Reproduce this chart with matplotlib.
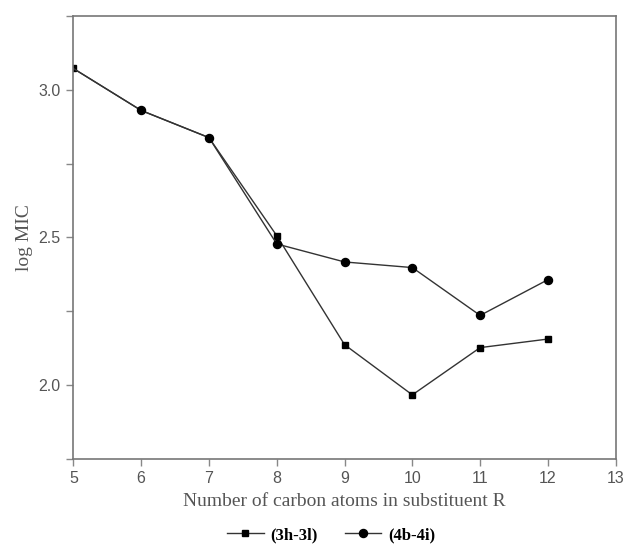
import matplotlib
matplotlib.use("Agg")
import matplotlib.pyplot as plt
from matplotlib.ticker import MultipleLocator, FormatStrFormatter

# data
carbons = [5, 6, 7, 8, 9, 10, 11, 12]
mic_3h3l = [3.072, 2.930, 2.838, 2.506, 2.137, 1.967, 2.127, 2.156]
mic_4b4i = [3.072, 2.930, 2.838, 2.478, 2.417, 2.398, 2.236, 2.357]
labels = ["(3h-3l)", "(4b-4i)"]

grey = "#555555"
fig = plt.figure(figsize=(6.27, 5.49), dpi=100)
ax = fig.add_axes([0.117, 0.164, 0.865, 0.807])

ax.plot(carbons, mic_3h3l, color="#333333", lw=1.0, marker="s", ms=4.8,
        mfc="black", mec="black", markevery=[0, 3, 4, 5, 6, 7], label=labels[0])
ax.plot(carbons, mic_4b4i, color="#333333", lw=1.0, marker="o", ms=5.8,
        mfc="black", mec="black", markevery=[1, 2, 3, 4, 5, 6, 7], label=labels[1])

ax.set_xlim(5, 13)
ax.set_ylim(1.75, 3.25)
ax.xaxis.set_major_locator(MultipleLocator(1))
ax.yaxis.set_major_locator(MultipleLocator(0.5))
ax.yaxis.set_minor_locator(MultipleLocator(0.25))
ax.yaxis.set_major_formatter(FormatStrFormatter("%.1f"))

for s in ax.spines.values():
    s.set_color("#777777")
    s.set_linewidth(1.2)
ax.tick_params(which="both", direction="out", length=5, width=1, color="#888888",
               labelcolor=grey, labelsize=11.5, pad=4)
for t in ax.get_xticklabels() + ax.get_yticklabels():
    t.set_family("Liberation Sans")

ax.set_xlabel("Number of carbon atoms in substituent R", family="Liberation Serif",
              fontsize=14, color=grey, labelpad=5)
ax.set_ylabel("log MIC", family="Liberation Serif", fontsize=14, color=grey, labelpad=4)

fig.legend(loc="center", bbox_to_anchor=(0.528, 0.025), ncol=2, frameon=False,
           handlelength=2.2, columnspacing=1.6, handletextpad=0.4,
           prop={"family": "Liberation Serif", "weight": "bold", "size": 12})

fig.savefig("out.png", dpi=100)
